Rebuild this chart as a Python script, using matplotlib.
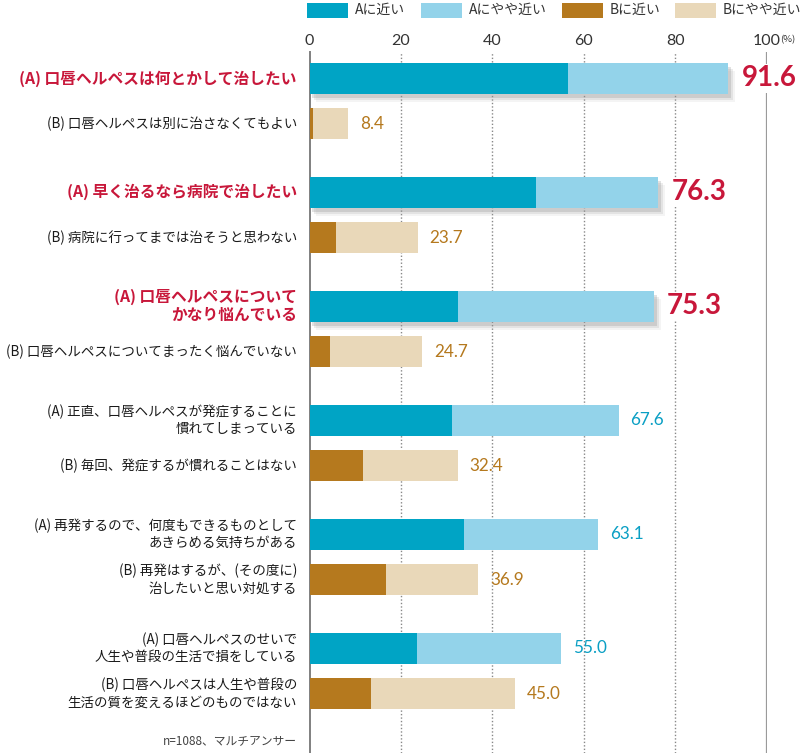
import matplotlib
matplotlib.use("Agg")
import matplotlib.pyplot as plt
import matplotlib.patheffects as pe
from matplotlib.patches import Rectangle
import numpy as np

plt.rcParams['font.family'] = ['Noto Sans CJK JP', 'DejaVu Sans']

# ---- data ----
categories = [
    "(A) 口唇ヘルペスは何とかして治したい",
    "(B) 口唇ヘルペスは別に治さなくてもよい",
    "(A) 早く治るなら病院で治したい",
    "(B) 病院に行ってまでは治そうと思わない",
    "(A) 口唇ヘルペスについて\nかなり悩んでいる",
    "(B) 口唇ヘルペスについてまったく悩んでいない",
    "(A) 正直、口唇ヘルペスが発症することに\n慣れてしまっている",
    "(B) 毎回、発症するが慣れることはない",
    "(A) 再発するので、何度もできるものとして\nあきらめる気持ちがある",
    "(B) 再発はするが、(その度に)\n治したいと思い対処する",
    "(A) 口唇ヘルペスのせいで\n人生や普段の生活で損をしている",
    "(B) 口唇ヘルペスは人生や普段の\n生活の質を変えるほどのものではない",
]
near = [56.6, 0.8, 49.6, 5.8, 32.5, 4.4, 31.2, 11.8, 33.7, 16.7, 23.5, 13.4]
totals = [91.6, 8.4, 76.3, 23.7, 75.3, 24.7, 67.6, 32.4, 63.1, 36.9, 55.0, 45.0]
side = ["A", "B"] * 6
highlight = [True, False, True, False, True, False,
             False, False, False, False, False, False]
legend_labels = ["Aに近い", "Aにやや近い", "Bに近い", "Bにやや近い"]
xticks = [0, 20, 40, 60, 80, 100]
footer = "n=1088、マルチアンサー"

# ---- styles ----
C_A1, C_A2 = "#00a4c5", "#93d3ea"
C_B1, C_B2 = "#b5791e", "#e9d8b9"
C_RED = "#c8173a"
C_TEAL = "#0a9fc4"
C_BROWN = "#b5791e"
legend_colors = [C_A1, C_A2, C_B1, C_B2]

ypos = []
for i in range(6):
    ypos += [i * 2.5, i * 2.5 + 1]

fig = plt.figure(figsize=(8, 7.53), dpi=100)
ax = fig.add_axes([309.5 / 800, 0, 457.2 / 800, 701 / 753])
ax.set_xlim(0, 100)
ax.set_ylim(14.8, -0.577)

some = [t - n for t, n in zip(totals, near)]
shadow = [pe.SimplePatchShadow(offset=(5, -6), shadow_rgbFace='#aaaaaa', alpha=0.12),
          pe.SimplePatchShadow(offset=(3.5, -4.5), shadow_rgbFace='#999999', alpha=0.18),
          pe.SimplePatchShadow(offset=(2, -3), shadow_rgbFace='#888888', alpha=0.25),
          pe.Normal()]

for y, n, s, sd, hl in zip(ypos, near, some, side, highlight):
    c1, c2 = (C_A1, C_A2) if sd == "A" else (C_B1, C_B2)
    b1 = ax.barh(y, n, height=0.68, color=c1, zorder=3)
    b2 = ax.barh(y, s, left=n, height=0.68, color=c2, zorder=3)
    if hl:
        for p in list(b1) + list(b2):
            p.set_path_effects(shadow)

# value labels
for y, t, sd, hl in zip(ypos, totals, side, highlight):
    if hl:
        ax.annotate(f"{t:.1f}", xy=(t, y), xytext=(9.5, 0), textcoords='offset points',
                    ha='left', va='center', fontsize=20, fontweight='bold',
                    family='Lato', color=C_RED, zorder=5,
                    bbox=dict(facecolor='white', edgecolor='none', pad=1))
    else:
        ax.annotate(f"{t:.1f}", xy=(t, y), xytext=(8.5, 0), textcoords='offset points',
                    ha='left', va='center', fontsize=12.3, family='Lato',
                    color=C_TEAL if sd == "A" else C_BROWN, zorder=5)

# category labels
for y, lab, hl in zip(ypos, categories, highlight):
    if hl:
        ax.text(-0.0275, y, lab, transform=ax.get_yaxis_transform(), ha='right',
                va='center', fontsize=11.3, fontweight='bold', color=C_RED,
                linespacing=1.15)
    else:
        ax.text(-0.0275, y, lab, transform=ax.get_yaxis_transform(), ha='right',
                va='center', fontsize=9.7, color='#1a1a1a', linespacing=1.25)

# grid / axes
for x in xticks[1:-1]:
    ax.axvline(x, color='#888888', lw=1.0, ls=(0, (1, 1.5)), zorder=1)
ax.axvline(100, color='#9a9a9a', lw=1.6, zorder=1)
for sp in ['top', 'right', 'bottom']:
    ax.spines[sp].set_visible(False)
ax.spines['left'].set_color('#808080')
ax.spines['left'].set_linewidth(1.4)
ax.set_yticks([])
ax.xaxis.tick_top()
ax.set_xticks(xticks)
ax.set_xticklabels([str(v) for v in xticks])
ax.tick_params(axis='x', length=0, pad=3, labelsize=11.5, colors='#333333')
for lbl in ax.get_xticklabels():
    lbl.set_family('Lato')
ax.annotate("(%)", xy=(100, 1.0), xycoords=('data', 'axes fraction'),
            xytext=(9.5, 9), textcoords='offset points', ha='left', va='center',
            fontsize=6.8, color='#333333')

# legend (manual, figure pixel coordinates)
patch_x = [307, 421, 562, 675]
for px, col, lab in zip(patch_x, legend_colors, legend_labels):
    fig.add_artist(Rectangle((px / 800, 1 - 17.5 / 753), 41 / 800, 15 / 753,
                             transform=fig.transFigure, facecolor=col,
                             edgecolor='none'))
    fig.text((px + 48) / 800, 1 - 10 / 753, lab, ha='left', va='center',
             fontsize=10, color='#333333')

# footer
fig.text(297 / 800, 1 - 741 / 753, footer, ha='right', va='center',
         fontsize=8.5, color='#444444')

fig.savefig("out.png", dpi=100)
